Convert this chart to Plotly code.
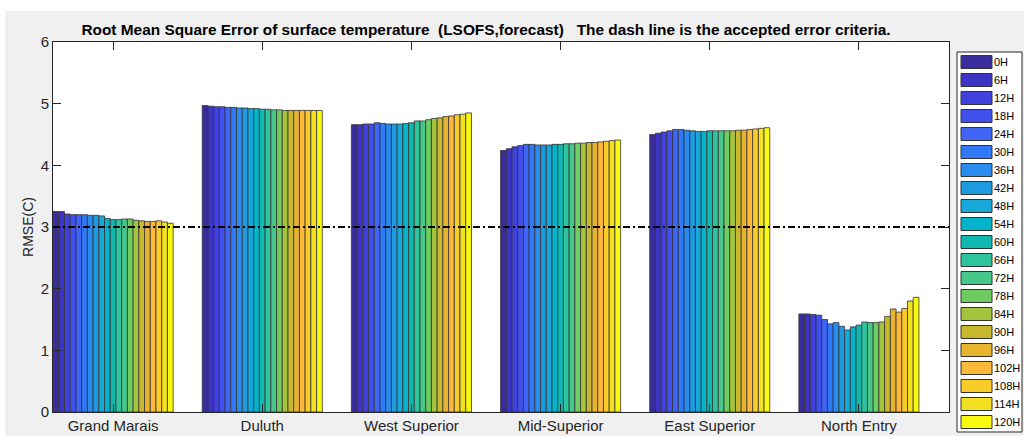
import plotly.graph_objects as go

stations = ["Grand Marais", "Duluth", "West Superior", "Mid-Superior", "East Superior", "North Entry"]
forecast_hours = ["0H", "6H", "12H", "18H", "24H", "30H", "36H", "42H", "48H", "54H", "60H",
                  "66H", "72H", "78H", "84H", "90H", "96H", "102H", "108H", "114H", "120H"]

grand_marais = [3.25, 3.25, 3.21, 3.20, 3.20, 3.20, 3.19, 3.19, 3.18, 3.14, 3.12,
                3.12, 3.13, 3.13, 3.11, 3.10, 3.09, 3.09, 3.10, 3.08, 3.06]
duluth = [4.97, 4.96, 4.95, 4.95, 4.94, 4.94, 4.93, 4.93, 4.92, 4.92, 4.91,
          4.91, 4.90, 4.90, 4.89, 4.89, 4.89, 4.89, 4.89, 4.89, 4.89]
west_superior = [4.66, 4.66, 4.67, 4.67, 4.69, 4.68, 4.67, 4.67, 4.67, 4.68, 4.69,
                 4.72, 4.72, 4.74, 4.76, 4.77, 4.79, 4.80, 4.82, 4.83, 4.85]
mid_superior = [4.24, 4.27, 4.30, 4.32, 4.34, 4.34, 4.33, 4.33, 4.33, 4.34, 4.34,
                4.35, 4.35, 4.36, 4.36, 4.37, 4.37, 4.38, 4.39, 4.40, 4.41]
east_superior = [4.50, 4.52, 4.54, 4.56, 4.58, 4.58, 4.57, 4.56, 4.55, 4.55, 4.56,
                 4.56, 4.56, 4.56, 4.56, 4.57, 4.57, 4.58, 4.59, 4.60, 4.61]
north_entry = [1.59, 1.59, 1.58, 1.57, 1.50, 1.43, 1.45, 1.39, 1.33, 1.38, 1.41,
               1.46, 1.45, 1.45, 1.46, 1.55, 1.67, 1.62, 1.68, 1.80, 1.86]

criteria = 3.0
y_ticks = [0, 1, 2, 3, 4, 5, 6]

colors = ["#3b2c9e", "#3d33c4", "#4040dc", "#4050ee", "#4065f5", "#3079f7", "#2a8cee",
          "#1e9ae0", "#15a8d8", "#04b4cc", "#10b9b0", "#2ec49e", "#47c88a", "#6fcc60",
          "#a4c43e", "#c8b82e", "#e8b430", "#feb83a", "#f9cc2a", "#f3e020", "#f8fa10"]

series = [grand_marais, duluth, west_superior, mid_superior, east_superior, north_entry]
x_pos = list(range(1, len(stations) + 1))

W, H = 1024, 436
PL, PR, PT, PB = 53, 949, 42, 412          # plot area in pixels
PW, PH = PR - PL, PB - PT


def px_x(px):
    return (px - PL) / PW


def px_y(py):
    return (PB - py) / PH


fig = go.Figure()
for i, h in enumerate(forecast_hours):
    fig.add_trace(go.Bar(
        x=x_pos, y=[s[i] for s in series], name=h,
        marker=dict(color=colors[i], line=dict(color="#333333", width=0.8)),
    ))

FONT = "Liberation Sans, Arial, sans-serif"
axis_common = dict(showline=True, linecolor="#262626", linewidth=1, mirror="allticks",
                   ticks="inside", ticklen=8, tickcolor="#262626", showgrid=False,
                   zeroline=False, automargin=False,
                   tickfont=dict(family=FONT, size=15, color="#262626"))

fig.update_layout(
    width=W, height=H,
    margin=dict(l=PL, r=W - PR, t=PT, b=H - PB, autoexpand=False),
    paper_bgcolor="#f0f0f0", plot_bgcolor="white",
    barmode="group", bargap=0.195, bargroupgap=0,
    title=dict(text="<b>Root Mean Square Error of surface temperature\u00a0\u00a0(LSOFS,forecast)\u00a0\u00a0\u00a0The dash line is the accepted error criteria.</b>",
               font=dict(family=FONT, size=15.4, color="black"),
               x=486 / W, xanchor="center", xref="container",
               y=1 - 30 / H, yanchor="middle", yref="container"),
    xaxis=dict(range=[0.597, 6.604], tickvals=x_pos, ticktext=stations, **axis_common),
    yaxis=dict(range=[0, 6], tickvals=y_ticks, title=dict(text="RMSE(C)", standoff=3,
               font=dict(family=FONT, size=14, color="#262626")), **axis_common),
    showlegend=False,
)

# white strips at top and left of the figure (outside the gray figure window)
fig.add_shape(type="rect", xref="paper", yref="paper", layer="below",
              x0=px_x(-5), x1=px_x(W + 5), y0=px_y(11), y1=px_y(-5),
              fillcolor="white", line=dict(width=0))
fig.add_shape(type="rect", xref="paper", yref="paper", layer="below",
              x0=px_x(-5), x1=px_x(5), y0=px_y(H + 5), y1=px_y(-5),
              fillcolor="white", line=dict(width=0))

# criteria line
fig.add_shape(type="line", xref="paper", yref="y", x0=0, x1=1, y0=criteria, y1=criteria,
              line=dict(color="black", width=2, dash="7px,3px,2px,3px"))

# legend box (MATLAB style)
LX0, LX1, LY0, LY1 = 957, 1022, 52, 432
fig.add_shape(type="rect", xref="paper", yref="paper",
              x0=px_x(LX0), x1=px_x(LX1), y0=px_y(LY1), y1=px_y(LY0),
              fillcolor="white", line=dict(color="#262626", width=1))
step = 18
for i, h in enumerate(forecast_hours):
    cy = 62 + i * step
    fig.add_shape(type="rect", xref="paper", yref="paper",
                  x0=px_x(961), x1=px_x(992), y0=px_y(cy + 6.5), y1=px_y(cy - 6.5),
                  fillcolor=colors[i], line=dict(color="#333333", width=1))
    fig.add_annotation(xref="paper", yref="paper", x=px_x(993), y=px_y(cy),
                       xanchor="left", yanchor="middle", text=h, showarrow=False,
                       borderpad=0, xshift=0,
                       font=dict(family=FONT, size=11, color="black"))

fig.write_html("out.html")
